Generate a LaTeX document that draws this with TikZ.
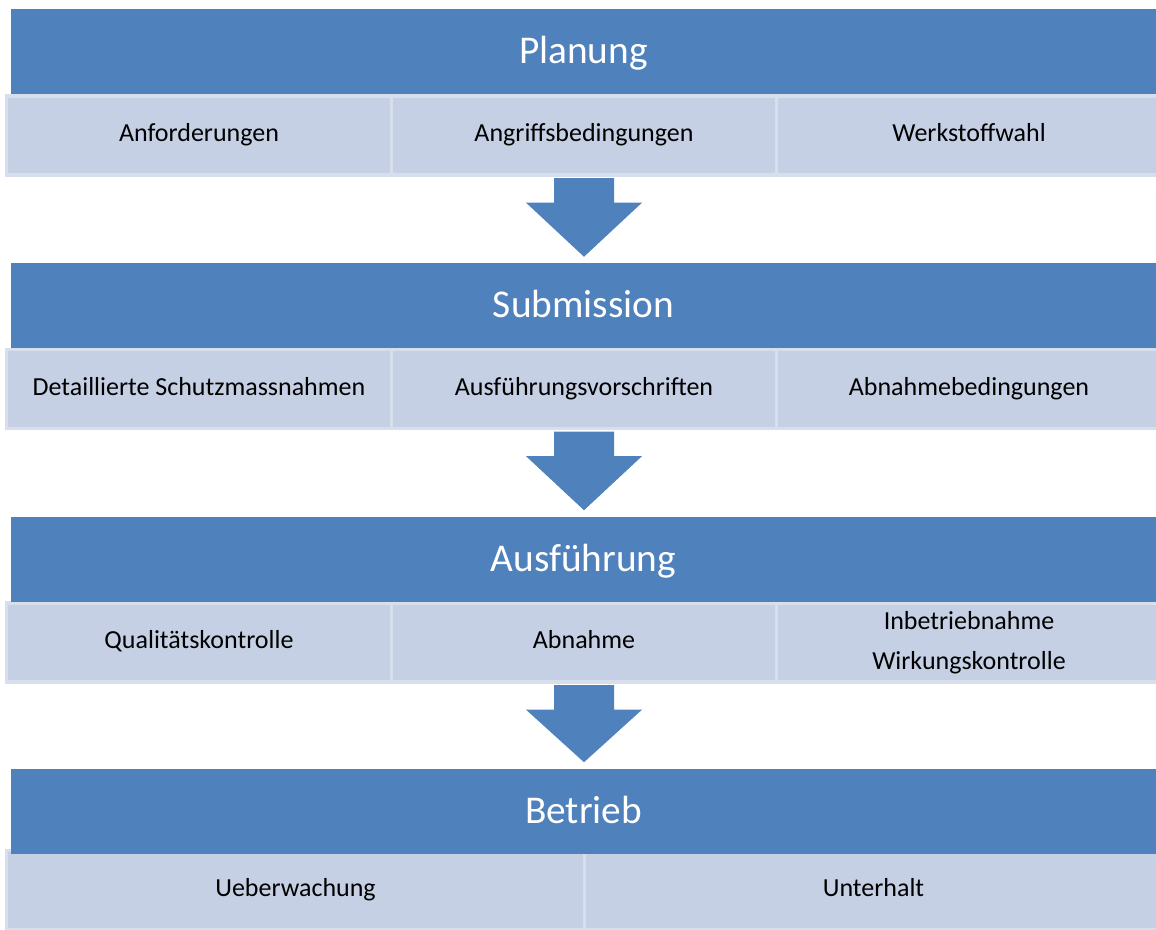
\documentclass[tikz,border=0pt]{standalone}
\usepackage{fontspec}
\setmainfont{Carlito}
\usetikzlibrary{positioning,calc}
\definecolor{hdblue}{HTML}{4F81BD}
\definecolor{cellfill}{HTML}{C5D0E4}
\definecolor{cellline}{HTML}{D7DEEC}

\begin{document}
\begin{tikzpicture}[x=0.75pt,y=-0.75pt]
        \useasboundingbox (0,0) rectangle (1156,929);
        \begin{scope}[every node/.style={fill=cellfill,draw=cellline,line width=2.5pt,minimum width=385*0.75pt,minimum height=79*0.75pt,inner sep=0pt,align=center,text height=13pt,text depth=4pt,font=\fontsize{19.5}{30}\selectfont}]
            \node (plan1) at (199,135.5) {Anforderungen};
            \node (plan2) at (584,135.5) {Angriffsbedingungen};
            \node (plan3) at (969,135.5) {Werkstoffwahl};

            \node (subm1) at (199,389) {Detaillierte Schutzmassnahmen};
            \node (subm2) at (584,389) {Ausführungsvorschriften};
            \node (subm3) at (969,389) {Abnahmebedingungen};

            \node (ausf1) at (199,642.5) {Qualitätskontrolle};
            \node (ausf2) at (584,642.5) {Abnahme};
            \node[text height=,text depth=] (ausf3) at (969,642.5) {Inbetriebnahme\\Wirkungskontrolle};

            \node[minimum width=578*0.75pt] (betr1) at (295.5,890) {Ueberwachung};
            \node[minimum width=578*0.75pt] (betr2) at (873.5,890) {Unterhalt};
        \end{scope}
        \begin{scope}[every node/.style={fill=hdblue,text=white,minimum width=1145*0.75pt,minimum height=85*0.75pt,inner sep=0pt,text height=24pt,text depth=6pt,font=\fontsize{29.5}{34}\selectfont}]
            \node (plan) at (583.5,51.5) {Planung};
            \node (subm) at (583.5,305.5) {Submission};
            \node (ausf) at (583.5,559) {Ausführung};
            \node (betr) at (583.5,811) {Betrieb};
        \end{scope}
        \begin{scope}[every path/.style={fill=hdblue}]
            \foreach \a/\b in {plan2/subm, subm2/ausf, ausf2/betr}
                \path let \p1=(\a.south), \p2=(\b.north) in
                    (\x1-22.5pt,\y1-1pt) -- (\x1+22.5pt,\y1-1pt) -- (\x1+22.5pt,\y1-19.5pt)
                    -- (\x1+43.5pt,\y1-19.5pt) -- (\x1,\y2+4.5pt) -- (\x1-43.5pt,\y1-19.5pt)
                    -- (\x1-22.5pt,\y1-19.5pt) -- cycle;
        \end{scope}
    \end{tikzpicture}
\end{document}
